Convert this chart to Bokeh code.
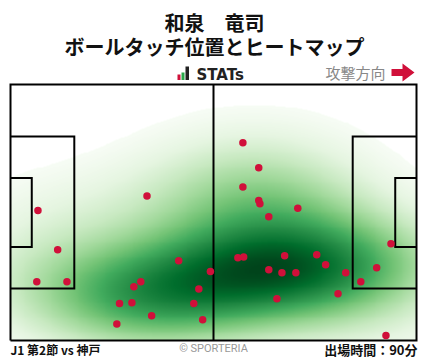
import numpy as np
from bokeh.plotting import figure
from bokeh.models import Range1d, Label, LinearColorMapper
from bokeh.palettes import Greens256
from bokeh.embed import file_html
from bokeh.resources import INLINE

# ---- texts ----
player = "和泉　竜司"
subtitle = "ボールタッチ位置とヒートマップ"
match_label = "J1 第2節 vs 神戸"
minutes_label = "出場時間：90分"
direction_label = "攻撃方向"
brand = "STATs"
credit = "© SPORTERIA"

# ---- pitch (metres) ----
PITCH_LEN = 105.0
PITCH_WID = 68.0
BOX_DEPTH = 16.5
BOX_WIDTH = 40.32
GA_DEPTH = 5.5
GA_WIDTH = 18.32

# ---- ball touches (metres, attacking to the right) ----
touch_x = [7.1, 12.2, 6.8, 14.6, 43.5, 51.7, 33.7, 31.9, 48.7, 28.2, 31.4, 47.4, 36.5,
           49.7, 27.5, 64.2, 64.5, 74.3, 66.8, 98.4, 58.8, 60.3, 70.9, 79.2, 81.5, 66.8,
           70.2, 73.8, 86.7, 94.7, 90.6, 68.9, 84.7, 97.1, 60.1, 64.2, 60.1, 35.3]
touch_y = [34.5, 24.1, 15.6, 15.6, 21.2, 18.3, 15.6, 14.3, 13.7, 9.8, 10.0, 9.8, 6.6,
           5.5, 4.4, 37.2, 36.3, 35.1, 32.9, 25.7, 22.0, 22.2, 22.5, 22.8, 20.1, 18.8,
           18.0, 18.0, 18.0, 19.3, 15.6, 11.1, 12.4, 1.3, 52.5, 45.9, 40.8, 38.4]

RED = "#d0103a"
BW_ADJUST = 1.45

# ---- layout: canvas pixels -> data ----
W, H = 428, 359
PX0, PX1 = 10, 416
PY0, PY1 = 84, 340
sx = PITCH_LEN / (PX1 - PX0)
sy = PITCH_WID / (PY1 - PY0)


def fx(px):
    return (px - PX0) * sx


def fy(py):
    return (PY1 - py) * sy


p = figure(width=W, height=H, output_backend="svg", toolbar_location=None,
           x_range=Range1d(fx(0), fx(W)), y_range=Range1d(fy(H), fy(0)),
           x_axis_type=None, y_axis_type=None, min_border=0)
p.grid.visible = False
p.outline_line_color = None
p.background_fill_color = "white"
p.border_fill_color = "white"

# ---- KDE heatmap from the touches ----
pts = np.vstack([touch_x, touch_y])
n = pts.shape[1]
factor = n ** (-1.0 / 6.0) * BW_ADJUST
cov = np.cov(pts) * factor ** 2
inv = np.linalg.inv(cov)


def kde(gx, gy):
    X, Y = np.meshgrid(gx, gy)
    D = np.zeros_like(X)
    for i in range(n):
        dx = X - pts[0, i]
        dy = Y - pts[1, i]
        q = inv[0, 0] * dx * dx + 2 * inv[0, 1] * dx * dy + inv[1, 1] * dy * dy
        D += np.exp(-0.5 * q)
    return D


step = 0.5
bx = np.arange(-60, 165, step)
by = np.arange(-50, 120, step)
big = kde(bx, by)
vals = np.sort(big.ravel())[::-1]
cum = np.cumsum(vals) / vals.sum()
level = vals[min(np.searchsorted(cum, 0.95), len(vals) - 1)]

gx = np.linspace(0, PITCH_LEN, 421)
gy = np.linspace(0, PITCH_WID, 273)
dens = kde(gx, gy)
dmax = dens.max()
img = dens.copy()
img[img < level] = np.nan

mapper = LinearColorMapper(palette=list(reversed(Greens256)), low=level, high=dmax,
                           nan_color="rgba(0,0,0,0)")
p.image(image=[img], x=0, y=0, dw=PITCH_LEN, dh=PITCH_WID, color_mapper=mapper)

# ---- pitch lines ----
yb0 = (PITCH_WID - BOX_WIDTH) / 2
yb1 = yb0 + BOX_WIDTH
yg0 = (PITCH_WID - GA_WIDTH) / 2
yg1 = yg0 + GA_WIDTH
xs = [[0, PITCH_LEN, PITCH_LEN, 0, 0],
      [PITCH_LEN / 2, PITCH_LEN / 2],
      [0, BOX_DEPTH, BOX_DEPTH, 0],
      [0, GA_DEPTH, GA_DEPTH, 0],
      [PITCH_LEN, PITCH_LEN - BOX_DEPTH, PITCH_LEN - BOX_DEPTH, PITCH_LEN],
      [PITCH_LEN, PITCH_LEN - GA_DEPTH, PITCH_LEN - GA_DEPTH, PITCH_LEN]]
ys = [[0, 0, PITCH_WID, PITCH_WID, 0],
      [0, PITCH_WID],
      [yb0, yb0, yb1, yb1],
      [yg0, yg0, yg1, yg1],
      [yb0, yb0, yb1, yb1],
      [yg0, yg0, yg1, yg1]]
p.multi_line(xs, ys, line_color="black", line_width=2, line_join="miter")

# ---- touches ----
p.scatter(touch_x, touch_y, size=7.5, color=RED, line_color=None)

# ---- texts ----
JP = "Noto Sans CJK JP"
p.add_layout(Label(x=fx(214), y=fy(22), text=player, text_align="center",
                   text_baseline="middle", text_font=JP, text_font_style="bold",
                   text_font_size="20px", text_color="#111111"))
p.add_layout(Label(x=fx(214), y=fy(46), text=subtitle, text_align="center",
                   text_baseline="middle", text_font=JP, text_font_style="bold",
                   text_font_size="20px", text_color="#111111"))
p.add_layout(Label(x=fx(196), y=fy(74), text=brand, text_align="left",
                   text_baseline="middle", text_font="DejaVu Sans", text_font_style="bold",
                   text_font_size="15px", text_color="#222222"))
p.add_layout(Label(x=fx(385), y=fy(72), text=direction_label, text_align="right",
                   text_baseline="middle", text_font=JP,
                   text_font_size="15px", text_color="#888888"))
p.add_layout(Label(x=fx(10), y=fy(349), text=match_label, text_align="left",
                   text_baseline="middle", text_font=JP, text_font_style="bold",
                   text_font_size="12px", text_color="#111111"))
p.add_layout(Label(x=fx(213), y=fy(348), text=credit, text_align="center",
                   text_baseline="middle", text_font="Roboto",
                   text_font_size="11px", text_color="#999999"))
p.add_layout(Label(x=fx(417), y=fy(349), text=minutes_label, text_align="right",
                   text_baseline="middle", text_font=JP, text_font_style="bold",
                   text_font_size="13px", text_color="#111111"))

# ---- logo bars ----
p.quad(left=[fx(177), fx(181), fx(185)], right=[fx(180), fx(184), fx(188.5)],
       bottom=[fy(79.5)] * 3, top=[fy(74), fy(72), fy(66)],
       fill_color=[RED, "#2aa84a", "#222222"], line_color=None)

# ---- direction arrow ----
ax = [fx(391), fx(402), fx(402), fx(414), fx(402), fx(402), fx(391)]
ay = [fy(68.5), fy(68.5), fy(63), fy(72), fy(81), fy(75.5), fy(75.5)]
p.patch(ax, ay, fill_color=RED, line_color=None)

open("out.html", "w").write(file_html(p, INLINE))
